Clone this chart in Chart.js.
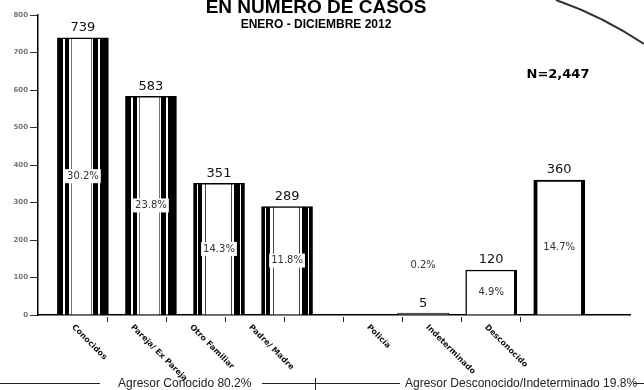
<!DOCTYPE html>
<html>
<head>
<meta charset="utf-8">
<script src="https://cdn.jsdelivr.net/npm/chart.js@4.4.1/dist/chart.umd.min.js"></script>
<style>
  html, body { margin: 0; padding: 0; background: #fff; }
  #wrap { width: 644px; height: 390px; }
</style>
</head>
<body>
<div id="wrap"><canvas id="chart"></canvas></div>
<script>
// agresores, enero - diciembre 2012
const categories = ["Conocidos", "Pareja/ Ex Pareja", "Otro Familiar", "Padre/ Madre", "", "Policía", "Indeterminado", "Desconocido"];
const casos = [739, 583, 351, 289, null, 5, 120, 360];
const porcentajes = ["30.2%", "23.8%", "14.3%", "11.8%", "", "0.2%", "4.9%", "14.7%"];
const yTicks = [0, 100, 200, 300, 400, 500, 600, 700, 800];
const grupos = ["Agresor Conocido 80.2%", "Agresor Desconocido/Indeterminado 19.8%"];
const titulo = "EN NUMERO DE CASOS";
const subtitulo = "ENERO - DICIEMBRE 2012";
const total = "N=2,447";

const K = "#000", W = "#fff", G = "#777";
// vertical stripes of the scanned "cylinder" bars, as fractions of bar width
const stripesA = [[0, .10, K], [.10, .14, W], [.14, .22, K], [.22, .27, W], [.27, .29, G], [.29, .65, W],
  [.65, .67, G], [.67, .69, W], [.69, .79, K], [.79, .83, W], [.83, 1, K]];
const stripesB = [[0, .06, K], [.06, .09, W], [.09, .17, K], [.17, .22, W], [.22, .24, "#444"], [.24, .74, W],
  [.74, .76, "#444"], [.76, .80, W], [.80, .91, K], [.91, .94, W], [.94, 1, K]];
const barStripes = [stripesA, stripesA, stripesB, stripesB, null, null, null, null];

const BAR_W = 51;

function barFill(ctx) {
  const i = ctx.raw ? ctx.raw.x : 0;
  const chart = ctx.chart;
  if (i === 5) return "#aaa";
  const st = barStripes[i];
  if (!st || !chart.chartArea) return "#fff";
  const cx = chart.scales.x.getPixelForValue(i);
  const g = chart.ctx.createLinearGradient(cx - BAR_W / 2, 0, cx + BAR_W / 2, 0);
  st.forEach(([a, b, c]) => {
    g.addColorStop(a, c);
    g.addColorStop(Math.min(1, b), c);
  });
  return g;
}

function barBorder(ctx) {
  const i = ctx.raw ? ctx.raw.x : 0;
  if (i === 5) return 1;
  if (i === 6) return { left: 1.5, top: 1.5, right: 3, bottom: 0 };
  if (i === 7) return { left: 4, top: 2, right: 4, bottom: 0 };
  return 1.5;
}

const points = casos
  .map((v, i) => ({ x: i, y: v }))
  .filter((p) => p.y !== null);

const decor = {
  id: "decor",
  afterDatasetsDraw(chart) {
    const ctx = chart.ctx;
    const meta = chart.getDatasetMeta(0);
    const xl = chart.scales.xl;
    const area = chart.chartArea;

    // values above bars + percentages inside
    meta.data.forEach((el, k) => {
      const i = points[k].x;
      ctx.save();
      ctx.fillStyle = "#111";
      ctx.font = "13px 'DejaVu Sans'";
      ctx.textAlign = "center";
      ctx.textBaseline = "middle";
      ctx.fillText(String(casos[i]), el.x, el.y - 10);

      const pct = porcentajes[i];
      if (pct) {
        let py = (el.y + el.base) / 2;
        if (el.base - el.y < 30) py = el.y - 48;
        ctx.font = "10px 'DejaVu Sans'";
        const w = ctx.measureText(pct).width + 4;
        ctx.fillStyle = "#fff";
        ctx.fillRect(el.x - w / 2, py - 7, w, 14);
        ctx.fillStyle = "#333";
        ctx.fillText(pct, el.x, py);
      }
      ctx.restore();
    });

    // x tick marks and rotated category labels
    ctx.save();
    ctx.strokeStyle = "#222";
    ctx.lineWidth = 1;
    categories.forEach((c, i) => {
      const tx = Math.round(xl.getPixelForValue(i + 0.58)) + 0.5;
      ctx.beginPath();
      ctx.moveTo(tx, area.bottom + 2);
      ctx.lineTo(tx, area.bottom + 7);
      ctx.stroke();
      if (!c) return;
      const px = xl.getPixelForValue(i);
      ctx.save();
      ctx.translate(px, area.bottom + 11);
      ctx.rotate(Math.PI / 4);
      ctx.font = "bold 8px 'DejaVu Sans'";
      ctx.fillStyle = "#111";
      ctx.textAlign = "left";
      ctx.textBaseline = "middle";
      ctx.fillText(c, 0, 0);
      ctx.restore();
    });
    ctx.restore();

    // titles
    ctx.save();
    ctx.fillStyle = "#000";
    ctx.textAlign = "center";
    ctx.textBaseline = "alphabetic";
    ctx.font = "bold 19px 'Liberation Sans'";
    ctx.fillText(titulo, 316, 13);
    ctx.font = "bold 12px 'Liberation Sans'";
    ctx.fillText(subtitulo, 316, 28);
    ctx.font = "bold 13px 'DejaVu Sans'";
    ctx.textBaseline = "middle";
    ctx.fillText(total, 558, 75);

    // scanned page curve, top right
    ctx.strokeStyle = "#333";
    ctx.lineWidth = 2;
    ctx.beginPath();
    ctx.moveTo(556, 0);
    ctx.quadraticCurveTo(602, 16, 644, 44);
    ctx.stroke();

    // group lines at the bottom
    ctx.lineWidth = 1;
    ctx.strokeStyle = "#222";
    const ly = 383.5;
    [[0, 100], [262, 400], [634, 644]].forEach(([a, b]) => {
      ctx.beginPath();
      ctx.moveTo(a, ly);
      ctx.lineTo(b, ly);
      ctx.stroke();
    });
    ctx.beginPath();
    ctx.moveTo(315.5, 378);
    ctx.lineTo(315.5, 390);
    ctx.stroke();
    ctx.font = "12px 'Liberation Sans'";
    ctx.fillStyle = "#222";
    ctx.textAlign = "left";
    ctx.textBaseline = "middle";
    ctx.fillText(grupos[0], 118, ly);
    ctx.fillText(grupos[1], 405, ly);
    ctx.restore();
  }
};

new Chart(document.getElementById("chart"), {
  type: "bar",
  data: {
    datasets: [
      {
        label: "casos",
        data: points,
        backgroundColor: barFill,
        borderColor: "#000",
        borderWidth: barBorder,
        borderSkipped: "bottom",
        barThickness: BAR_W,
      },
    ],
  },
  options: {
    responsive: true,
    maintainAspectRatio: false,
    animation: false,
    layout: { padding: { top: 15, right: 14, left: 0, bottom: 0 } },
    plugins: {
      legend: { display: false },
      tooltip: { enabled: false },
    },
    scales: {
      x: {
        type: "linear",
        min: -0.66,
        max: 8.04,
        offset: false,
        bounds: "data",
        ticks: { display: false },
        grid: { drawOnChartArea: false, drawTicks: false, offset: false },
        border: { color: "#000", width: 1.5 },
        afterFit: (s) => { s.height = 75; },
      },
      xl: {
        type: "linear",
        position: "bottom",
        min: -0.593,
        max: 9.44,
        offset: false,
        bounds: "data",
        ticks: { display: false },
        grid: { display: false },
        border: { display: false },
        afterFit: (s) => { s.height = 0; },
      },
      y: {
        min: yTicks[0],
        max: yTicks[yTicks.length - 1],
        afterBuildTicks: (s) => { s.ticks = yTicks.map((v) => ({ value: v })); },
        ticks: {
          color: "#777",
          padding: 2,
          font: { family: "DejaVu Sans", size: 7, weight: "bold" },
        },
        grid: { drawOnChartArea: false, drawTicks: true, tickLength: 8, color: "#333" },
        border: { color: "#000", width: 1.5 },
        afterFit: (s) => { s.width = 38; },
      },
    },
  },
  plugins: [decor],
});
</script>
</body>
</html>
